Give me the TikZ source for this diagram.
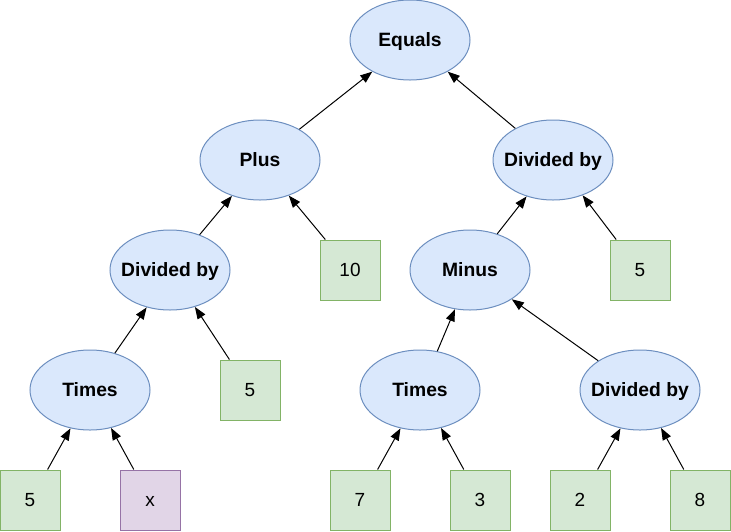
\documentclass[tikz,border=0pt]{standalone}
\usepackage{fontspec}
\setmainfont{Liberation Sans}
\usepackage{tikz}
\usetikzlibrary{shapes.geometric,arrows.meta}

\definecolor{opfill}{HTML}{DAE8FC}
\definecolor{opline}{HTML}{6C8EBF}
\definecolor{numfill}{HTML}{D5E8D4}
\definecolor{numline}{HTML}{82B366}
\definecolor{varfill}{HTML}{E1D5E7}
\definecolor{varline}{HTML}{9673A6}

\begin{document}
\begin{tikzpicture}[x=1pt,y=-1pt,
				op/.style={ellipse, draw=opline, fill=opfill, line width=1pt, inner sep=0pt,
					minimum width=120pt, minimum height=80pt,
					font=\fontsize{19.3}{22}\selectfont\bfseries, text height=13.8pt, text depth=0pt},
				num/.style={rectangle, draw=numline, fill=numfill, line width=1pt, inner sep=0pt,
					minimum width=60pt, minimum height=60pt,
					font=\fontsize{19}{22}\selectfont, text height=13.6pt, text depth=0pt},
				var/.style={num, draw=varline, fill=varfill},
				edge/.style={-{Triangle[length=12pt,width=9pt]}, line width=1pt}]
				\useasboundingbox (0,0) rectangle (731,531);
				% operators
				\node[op] (equals) at (410,40) {Equals};
				\node[op] (plus) at (260,160) {Plus};
				\node[op] (divR) at (553,160) {\makebox[0pt]{Divided by}};
				\node[op] (divL) at (170,270) {\makebox[0pt]{Divided by}};
				\node[op] (minus) at (470,270) {Minus};
				\node[op] (timesL) at (90,390) {Times};
				\node[op] (timesR) at (420,390) {Times};
				\node[op] (divB) at (640,390) {\makebox[0pt]{Divided by}};
				% operands
				\node[num] (ten) at (350,270) {10};
				\node[num] (fiveR) at (640,270) {5};
				\node[num] (fiveM) at (250,390) {5};
				\node[num] (fiveB) at (30,500) {5};
				\node[var] (x) at (150,500) {x};
				\node[num] (seven) at (360,500) {7};
				\node[num] (three) at (480,500) {3};
				\node[num] (two) at (580,500) {2};
				\node[num] (eight) at (700,500) {8};
				% edges
				\draw[edge] (plus.38) -- (equals.220);
				\draw[edge] (divR.140) -- (equals.320);
				\draw[edge] (divL.50) -- (plus.232);
				\draw[edge] (ten.129) -- (plus.309);
				\draw[edge] (minus.53) -- (divR.234);
				\draw[edge] (fiveR.128) -- (divR.310);
				\draw[edge] (timesL.56) -- (divL.238);
				\draw[edge] (fiveM.124) -- (divL.304);
				\draw[edge] (fiveB.60) -- (timesL.243);
				\draw[edge] (x.118) -- (timesL.299);
				\draw[edge] (timesR.66) -- (minus.249);
				\draw[edge] (divB.145) -- (minus.325);
				\draw[edge] (seven.60) -- (timesR.243);
				\draw[edge] (three.118) -- (timesR.299);
				\draw[edge] (two.60) -- (divB.243);
				\draw[edge] (eight.118) -- (divB.299);
			\end{tikzpicture}
\end{document}
